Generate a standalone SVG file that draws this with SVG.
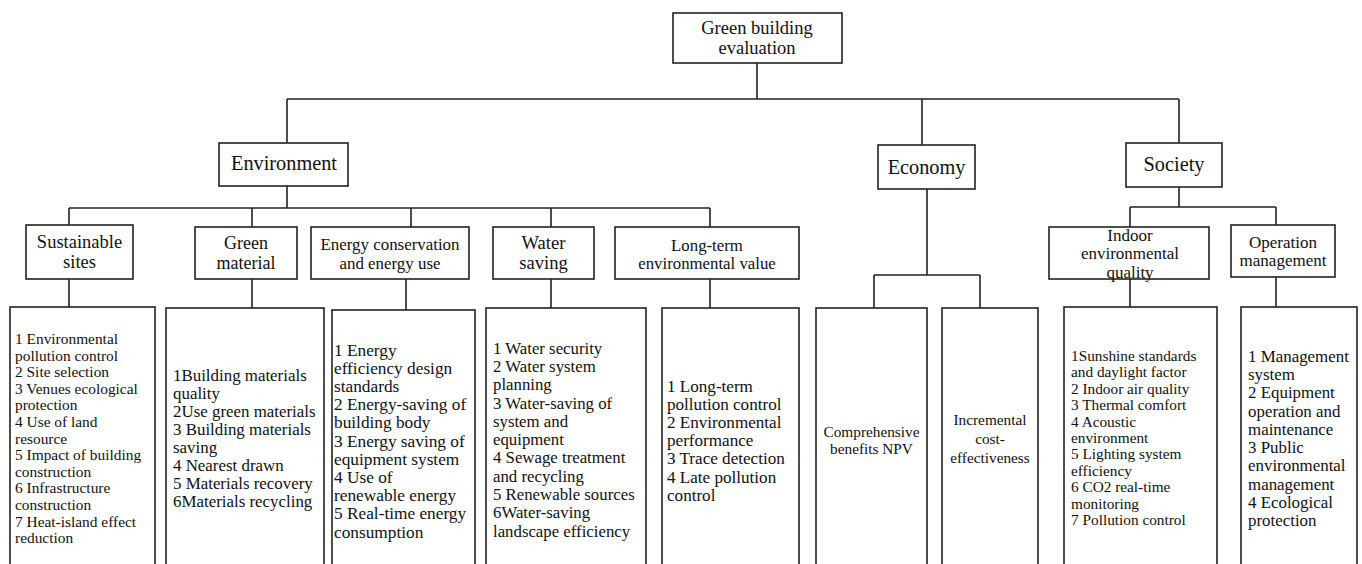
<svg xmlns="http://www.w3.org/2000/svg" width="1362" height="564" viewBox="0 0 1362 564">
<style>
.box{fill:#fff;stroke:#222;stroke-width:1.6}
text{font-family:'Liberation Serif','Times New Roman','DejaVu Serif',serif;fill:#111}
.c{text-anchor:middle}
.ln{fill:none;stroke:#222;stroke-width:1.6}
</style>
<rect x="0" y="0" width="1362" height="564" fill="#fff"/>
<g id="connectors" class="ln">
<path d="M757,63V99M287,99H1179M287,99V143M922,99V145M1179,99V143"/>
<path d="M287,186V208M69,208H710M69,208V225M252,208V227M411,208V227M551,208V227M710,208V227"/>
<path d="M69,279V307M252,279V308M406,279V310M551,279V308M710,279V308"/>
<path d="M927,189V275M874,275H980M874,275V308M980,275V308"/>
<path d="M1179,187V207M1130,207H1276M1130,207V227M1276,207V225M1130,279V307M1276,277V307"/>
</g>
<g id="root">
<rect class="box" x="673" y="13" width="169" height="50"/>
<text class="c" font-family="Liberation Serif, serif" font-size="18.5" x="757" y="34">Green building<tspan x="757" y="54">evaluation</tspan></text>
</g>
<g id="environment">
<rect class="box" x="219" y="143" width="129" height="43"/>
<text class="c" font-family="Liberation Serif, serif" font-size="20.3" x="284" y="170">Environment</text>
</g>
<g id="economy">
<rect class="box" x="878" y="145" width="97" height="44"/>
<text class="c" font-family="Liberation Serif, serif" font-size="20.3" x="926.5" y="174">Economy</text>
</g>
<g id="society">
<rect class="box" x="1126" y="143" width="96" height="44"/>
<text class="c" font-family="Liberation Serif, serif" font-size="20.3" x="1174" y="171">Society</text>
</g>
<g id="sustainable-sites">
<rect class="box" x="26" y="225" width="107" height="54"/>
<text class="c" font-family="Liberation Serif, serif" font-size="18.5" x="79.5" y="248">Sustainable<tspan x="79.5" y="268">sites</tspan></text>
</g>
<g id="green-material">
<rect class="box" x="195" y="227" width="102" height="52"/>
<text class="c" font-family="Liberation Serif, serif" font-size="18" x="246" y="249">Green<tspan x="246" y="269">material</tspan></text>
</g>
<g id="energy">
<rect class="box" x="311" y="227" width="158" height="52"/>
<text class="c" font-family="Liberation Serif, serif" font-size="16.9" x="390" y="250">Energy conservation<tspan x="390" y="269">and energy use</tspan></text>
</g>
<g id="water">
<rect class="box" x="493" y="227" width="101" height="52"/>
<text class="c" font-family="Liberation Serif, serif" font-size="18.6" x="543.5" y="249">Water<tspan x="543.5" y="269">saving</tspan></text>
</g>
<g id="long-term">
<rect class="box" x="615" y="227" width="184" height="52"/>
<text class="c" font-family="Liberation Serif, serif" font-size="16.8" x="707" y="251">Long-term<tspan x="707" y="269">environmental value</tspan></text>
</g>
<g id="indoor">
<rect class="box" x="1049" y="227" width="160" height="52"/>
<text class="c" font-family="Liberation Serif, serif" font-size="17" x="1130" y="241">Indoor<tspan x="1130" y="259">environmental</tspan><tspan x="1130" y="278">quality</tspan></text>
</g>
<g id="operation">
<rect class="box" x="1231" y="225" width="104" height="52"/>
<text class="c" font-family="Liberation Serif, serif" font-size="17" x="1283" y="248">Operation<tspan x="1283" y="266">management</tspan></text>
</g>
<g id="sites-items">
<rect class="box" x="10" y="307" width="145" height="300"/>
<text font-family="Liberation Serif, serif" font-size="15.4" x="15" y="344"><tspan x="15">1 Environmental</tspan><tspan x="15" dy="16.6">pollution control</tspan><tspan x="15" dy="16.6">2  Site selection</tspan><tspan x="15" dy="16.6">3 Venues ecological</tspan><tspan x="15" dy="16.6">protection</tspan><tspan x="15" dy="16.6">4 Use of land</tspan><tspan x="15" dy="16.6">resource</tspan><tspan x="15" dy="16.6">5 Impact of building</tspan><tspan x="15" dy="16.6">construction</tspan><tspan x="15" dy="16.6">6 Infrastructure</tspan><tspan x="15" dy="16.6">construction</tspan><tspan x="15" dy="16.6">7 Heat-island effect</tspan><tspan x="15" dy="16.6">reduction</tspan></text>
</g>
<g id="material-items">
<rect class="box" x="166" y="308" width="158" height="300"/>
<text font-family="Liberation Serif, serif" font-size="16.9" x="173" y="380.6"><tspan x="173">1Building materials</tspan><tspan x="173" dy="18.1">quality</tspan><tspan x="173" dy="18.1">2Use green materials</tspan><tspan x="173" dy="18.1">3 Building materials</tspan><tspan x="173" dy="18.1">saving</tspan><tspan x="173" dy="18.1">4 Nearest drawn</tspan><tspan x="173" dy="18.1">5 Materials recovery</tspan><tspan x="173" dy="18.1">6Materials recycling</tspan></text>
</g>
<g id="energy-items">
<rect class="box" x="332" y="310" width="143" height="300"/>
<text font-family="Liberation Serif, serif" font-size="17.3" x="334" y="355.6"><tspan x="334">1 Energy</tspan><tspan x="334" dy="18.2">efficiency design</tspan><tspan x="334" dy="18.2">standards</tspan><tspan x="334" dy="18.2">2 Energy-saving of</tspan><tspan x="334" dy="18.2">building body</tspan><tspan x="334" dy="18.2">3 Energy saving of</tspan><tspan x="334" dy="18.2">equipment system</tspan><tspan x="334" dy="18.2">4 Use of</tspan><tspan x="334" dy="18.2">renewable energy</tspan><tspan x="334" dy="18.2">5 Real-time energy</tspan><tspan x="334" dy="18.2">consumption</tspan></text>
</g>
<g id="water-items">
<rect class="box" x="486" y="308" width="160" height="300"/>
<text font-family="Liberation Serif, serif" font-size="16.8" x="493" y="353.6"><tspan x="493">1 Water security</tspan><tspan x="493" dy="18.3">2 Water system</tspan><tspan x="493" dy="18.3">planning</tspan><tspan x="493" dy="18.3">3 Water-saving of</tspan><tspan x="493" dy="18.3">system and</tspan><tspan x="493" dy="18.3">equipment</tspan><tspan x="493" dy="18.3">4 Sewage treatment</tspan><tspan x="493" dy="18.3">and recycling</tspan><tspan x="493" dy="18.3">5 Renewable sources</tspan><tspan x="493" dy="18.3">6Water-saving</tspan><tspan x="493" dy="18.3">landscape efficiency</tspan></text>
</g>
<g id="long-term-items">
<rect class="box" x="662" y="308" width="137" height="300"/>
<text font-family="Liberation Serif, serif" font-size="17.1" x="667" y="391.6"><tspan x="667">1 Long-term</tspan><tspan x="667" dy="18.2">pollution control</tspan><tspan x="667" dy="18.2">2 Environmental</tspan><tspan x="667" dy="18.2">performance</tspan><tspan x="667" dy="18.2">3 Trace detection</tspan><tspan x="667" dy="18.2">4 Late pollution</tspan><tspan x="667" dy="18.2">control</tspan></text>
</g>
<g id="npv">
<rect class="box" x="816" y="308" width="111" height="300"/>
<text class="c" font-family="Liberation Serif, serif" font-size="15.3" x="871.5" y="437"><tspan x="871.5">Comprehensive</tspan><tspan x="871.5" dy="17">benefits NPV</tspan></text>
</g>
<g id="incremental">
<rect class="box" x="942" y="308" width="96" height="300"/>
<text class="c" font-family="Liberation Serif, serif" font-size="15.3" x="990" y="425"><tspan x="990">Incremental</tspan><tspan x="990" dy="19">cost-</tspan><tspan x="990" dy="19">effectiveness</tspan></text>
</g>
<g id="indoor-items">
<rect class="box" x="1064" y="307" width="153" height="300"/>
<text font-family="Liberation Serif, serif" font-size="15.3" x="1071" y="361"><tspan x="1071">1Sunshine standards</tspan><tspan x="1071" dy="16.4">and daylight factor</tspan><tspan x="1071" dy="16.4">2 Indoor air quality</tspan><tspan x="1071" dy="16.4">3 Thermal comfort</tspan><tspan x="1071" dy="16.4">4 Acoustic</tspan><tspan x="1071" dy="16.4">environment</tspan><tspan x="1071" dy="16.4">5 Lighting system</tspan><tspan x="1071" dy="16.4">efficiency</tspan><tspan x="1071" dy="16.4">6 CO2 real-time</tspan><tspan x="1071" dy="16.4">monitoring</tspan><tspan x="1071" dy="16.4">7 Pollution control</tspan></text>
</g>
<g id="operation-items">
<rect class="box" x="1241" y="307" width="116" height="300"/>
<text font-family="Liberation Serif, serif" font-size="16.9" x="1248" y="361.6"><tspan x="1248">1 Management</tspan><tspan x="1248" dy="18.3">system</tspan><tspan x="1248" dy="18.3">2 Equipment</tspan><tspan x="1248" dy="18.3">operation and</tspan><tspan x="1248" dy="18.3">maintenance</tspan><tspan x="1248" dy="18.3">3 Public</tspan><tspan x="1248" dy="18.3">environmental</tspan><tspan x="1248" dy="18.3">management</tspan><tspan x="1248" dy="18.3">4 Ecological</tspan><tspan x="1248" dy="18.3">protection</tspan></text>
</g>
</svg>
